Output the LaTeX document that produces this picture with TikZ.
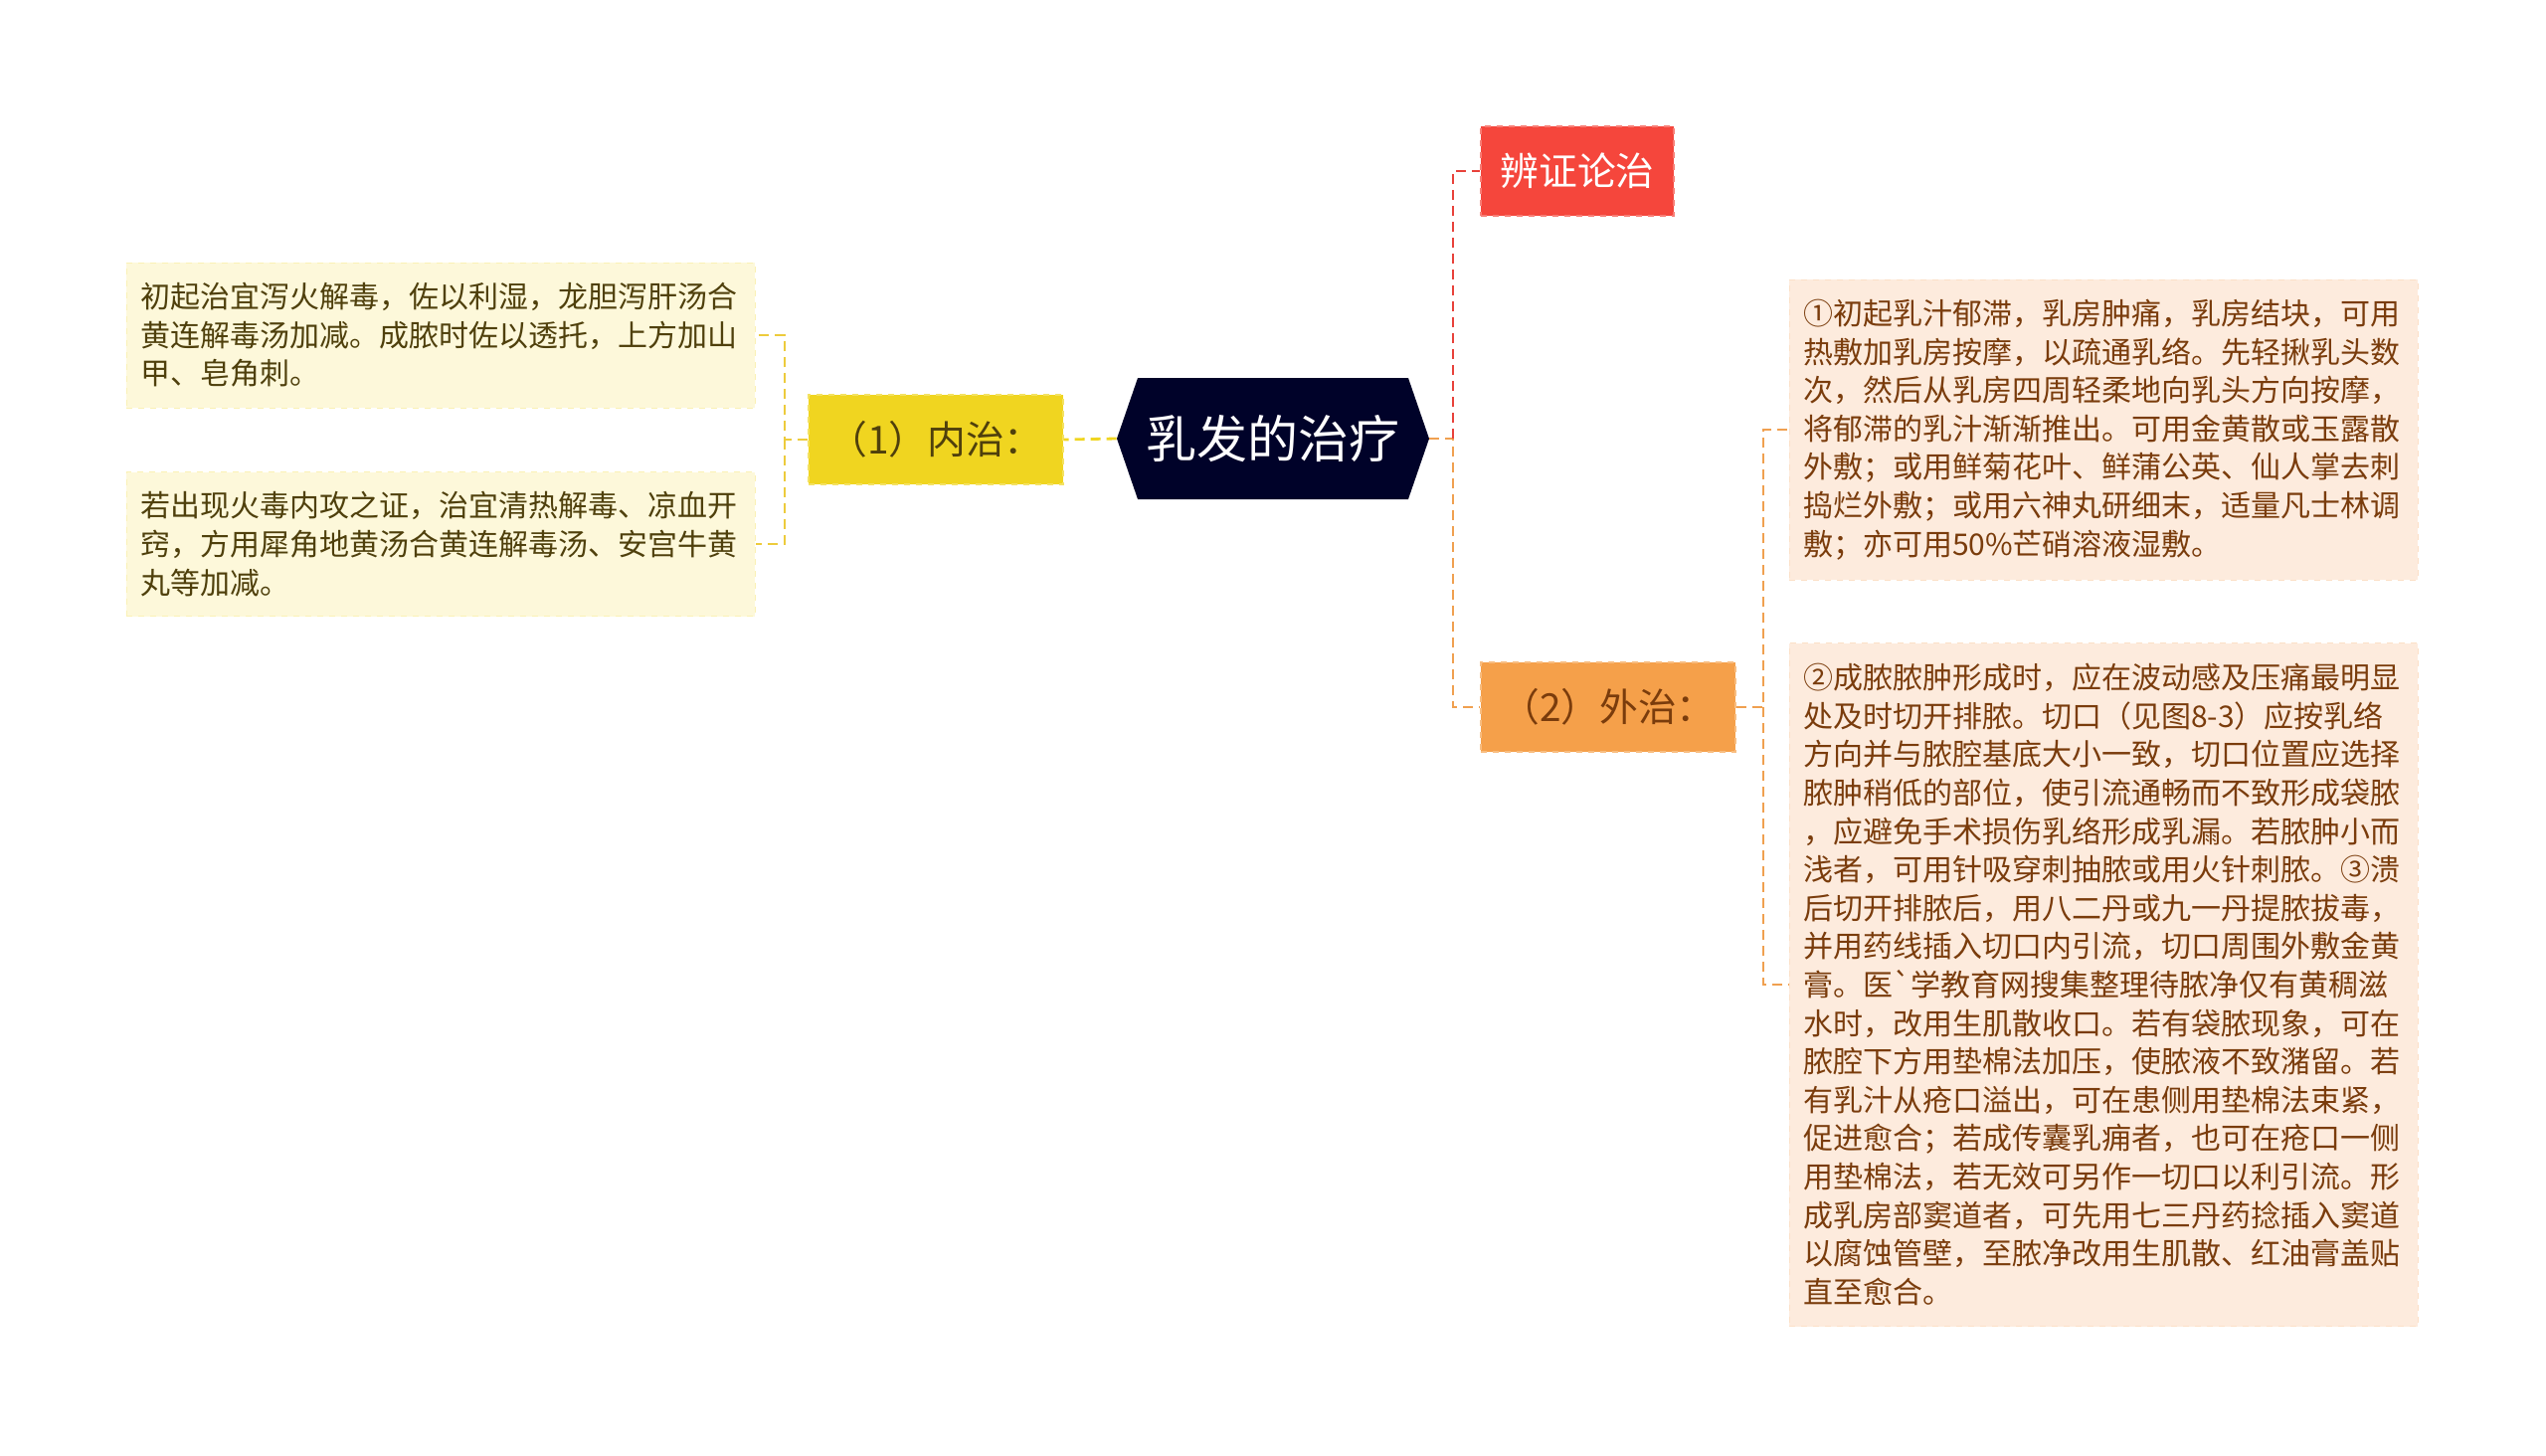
\documentclass[tikz,border=0pt]{standalone}
\usepackage{fontspec}
\setmainfont{Noto Sans CJK SC}
\usetikzlibrary{shapes.symbols}
\definecolor{rootbg}{HTML}{000229}
\definecolor{redbg}{HTML}{F5463C}
\definecolor{redln}{HTML}{E8413A}
\definecolor{yelbg}{HTML}{F0D520}
\definecolor{yelln}{HTML}{EDCB3C}
\definecolor{orabg}{HTML}{F5A04A}
\definecolor{oraln}{HTML}{F0A050}
\definecolor{leafy}{HTML}{FDF8DA}
\definecolor{leafo}{HTML}{FDEBDD}
\definecolor{txty}{HTML}{4F400C}
\definecolor{txto}{HTML}{7A3C0C}
\begin{document}
\begin{tikzpicture}[x=0.5pt,y=-0.5pt]
      \tikzset{
        rootnode/.style={signal, signal to=west and east, signal pointer angle=142,
          fill=rootbg, text=white, minimum width=157pt, minimum height=61pt,
          inner sep=2pt, font=\fontsize{25.5pt}{30pt}\selectfont},
        topic/.style={minimum height=45pt, inner xsep=6pt, dashed, line width=0.6pt,
          font=\fontsize{19.4pt}{24pt}\selectfont},
        leaf/.style={text width=302pt, inner xsep=7pt, align=left, dashed, line width=0.5pt,
          font=\fontsize{15pt}{19.3pt}\selectfont},
        link/.style={line width=1.4pt, dash pattern=on 5pt off 3pt},
        sublink/.style={line width=0.8pt, dash pattern=on 5pt off 3pt}
      }
      \useasboundingbox (0,0) rectangle (2560,1463);
      \node[rootnode] (root) at (1280,441) {乳发的治疗};
      \node[topic, fill=redbg, draw=redbg!70!white, text=white, minimum width=97pt] (bzlz) at (1586,172) {辨证论治};
      \node[topic, fill=yelbg, draw=yelbg!70!white, text=txty, minimum width=128pt] (neizhi) at (941,442) {（1）内治：};
      \node[topic, fill=orabg, draw=orabg!70!white, text=txto, minimum width=128pt] (waizhi) at (1617,711) {（2）外治：};
      \node[leaf, fill=leafy, draw=leafy!80!yelbg, text=txty, minimum height=73pt] (nz1) at (443,337)
        {初起治宜泻火解毒，佐以利湿，龙胆泻肝汤合\\黄连解毒汤加减。成脓时佐以透托，上方加山\\甲、皂角刺。};
      \node[leaf, fill=leafy, draw=leafy!80!yelbg, text=txty, minimum height=72.5pt] (nz2) at (443,547)
        {若出现火毒内攻之证，治宜清热解毒、凉血开\\窍，方用犀角地黄汤合黄连解毒汤、安宫牛黄\\丸等加减。};
      \node[leaf, fill=leafo, draw=leafo!85!orabg, text=txto, minimum height=151pt] (wz1) at (2115,432)
        {①初起乳汁郁滞，乳房肿痛，乳房结块，可用\\热敷加乳房按摩，以疏通乳络。先轻揪乳头数\\次，然后从乳房四周轻柔地向乳头方向按摩，\\将郁滞的乳汁渐渐推出。可用金黄散或玉露散\\外敷；或用鲜菊花叶、鲜蒲公英、仙人掌去刺\\捣烂外敷；或用六神丸研细末，适量凡士林调\\敷；亦可用50\%芒硝溶液湿敷。};
      \node[leaf, fill=leafo, draw=leafo!85!orabg, text=txto, minimum height=343.5pt] (wz2) at (2115,990)
        {②成脓脓肿形成时，应在波动感及压痛最明显\\处及时切开排脓。切口（见图8-3）应按乳络\\方向并与脓腔基底大小一致，切口位置应选择\\脓肿稍低的部位，使引流通畅而不致形成袋脓\\，应避免手术损伤乳络形成乳漏。若脓肿小而\\浅者，可用针吸穿刺抽脓或用火针刺脓。③溃\\后切开排脓后，用八二丹或九一丹提脓拔毒，\\并用药线插入切口内引流，切口周围外敷金黄\\膏。医\textasciigrave 学教育网搜集整理待脓净仅有黄稠滋\\水时，改用生肌散收口。若有袋脓现象，可在\\脓腔下方用垫棉法加压，使脓液不致潴留。若\\有乳汁从疮口溢出，可在患侧用垫棉法束紧，\\促进愈合；若成传囊乳痈者，也可在疮口一侧\\用垫棉法，若无效可另作一切口以利引流。形\\成乳房部窦道者，可先用七三丹药捻插入窦道\\以腐蚀管壁，至脓净改用生肌散、红油膏盖贴\\直至愈合。};
      % connectors
      \coordinate (rj) at (1461,441);
      \coordinate (lj) at (789,442);
      \coordinate (wj) at (1773,711);
      \draw[link, oraln] (root.east) -- (rj) |- (waizhi.west);
      \draw[link, redln] (rj) |- (bzlz.west);
      \draw[link, yelbg] (root.west) -- (neizhi.east);
      \draw[sublink, yelln] (neizhi.west) -- (lj) |- (nz1.east);
      \draw[sublink, yelln] (lj) |- (nz2.east);
      \draw[sublink, oraln] (waizhi.east) -- (wj) |- (wz1.west);
      \draw[sublink, oraln] (wj) |- (wz2.west);
\end{tikzpicture}
\end{document}
